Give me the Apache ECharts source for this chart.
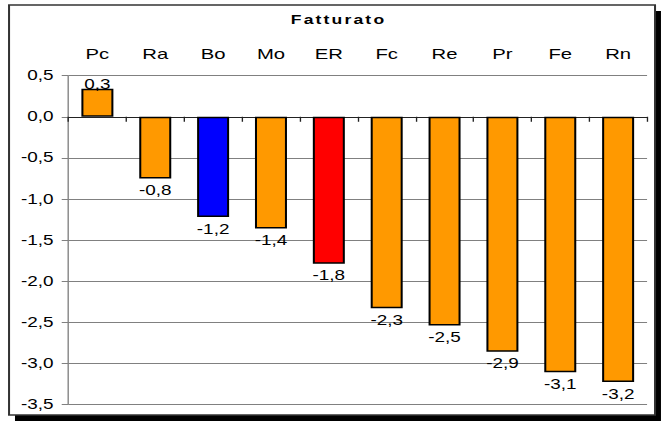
<!DOCTYPE html>
<html>
<head>
<meta charset="utf-8">
<script src="https://cdn.jsdelivr.net/npm/echarts@6/dist/echarts.min.js"></script>
<style>
  html, body { margin: 0; padding: 0; background: #ffffff; overflow: hidden; }
  #wrap { width: 663px; height: 423px; overflow: hidden; }
  /* the chart is laid out narrower and widened horizontally, giving the wide lettering */
  #chart { width: 491px; height: 423px; transform: scaleX(1.3503); transform-origin: 0 0; }
</style>
</head>
<body>
<div id="wrap"><div id="chart"></div></div>
<script>
// Turnover change by province
const titleText = 'Fatturato';
const categories = ['Pc', 'Ra', 'Bo', 'Mo', 'ER', 'Fc', 'Re', 'Pr', 'Fe', 'Rn'];
const values = [0.34, -0.75, -1.22, -1.36, -1.79, -2.33, -2.54, -2.86, -3.11, -3.23];
const barColors = ['#FF9900', '#FF9900', '#0000FF', '#FF9900', '#FF0000', '#FF9900', '#FF9900', '#FF9900', '#FF9900', '#FF9900'];
const yTicks = { min: -3.5, max: 0.5, step: 0.5 };

const FONT = '"Liberation Sans", Arial, sans-serif';

// one decimal, comma separator, halves rounded away from zero
function fmt(v) {
  const r = Math.round(Math.abs(v) * 10) / 10;
  return (v < 0 && r !== 0 ? '-' : '') + r.toFixed(1).replace('.', ',');
}

const chart = echarts.init(document.getElementById('chart'), null, { renderer: 'svg' });

const option = {
  animation: false,
  backgroundColor: 'transparent',
  graphic: [
    { type: 'rect', z: -10, silent: true,
      shape: { x: 11.1, y: 11, width: 478.4, height: 410 },
      style: { fill: '#000000' } },
    { type: 'rect', z: -9, silent: true,
      shape: { x: 6.7, y: 5, width: 478.4, height: 410 },
      style: { fill: '#ffffff', stroke: '#333333', lineWidth: 1.5 } },
    { type: 'text', z: 10, silent: true, x: 250.7, y: 19.5,
      style: { text: titleText, font: 'bold 13px ' + FONT, fill: '#000000',
               textAlign: 'center', textVerticalAlign: 'middle',
               align: 'center', verticalAlign: 'middle' } }
  ],
  grid: { left: 50.7, right: 11.8, top: 75.7, bottom: 18.7, containLabel: false },
  xAxis: [
    {
      type: 'category', data: categories, position: 'top',
      axisLine: { show: false, onZero: false },
      axisTick: { show: false },
      axisLabel: { show: true, fontSize: 15, fontFamily: FONT, color: '#000000', margin: 14 },
      splitLine: { show: false }
    },
    {
      type: 'category', data: categories, position: 'bottom',
      axisLine: { show: true, onZero: true, lineStyle: { color: '#222222', width: 1 } },
      axisTick: { show: true, length: 5, lineStyle: { color: '#222222', width: 1 } },
      axisLabel: { show: false },
      splitLine: { show: false }
    }
  ],
  yAxis: {
    type: 'value', min: yTicks.min, max: yTicks.max, interval: yTicks.step,
    axisLine: { show: true, lineStyle: { color: '#808080', width: 1 } },
    axisTick: { show: true, length: 5, lineStyle: { color: '#808080', width: 1 } },
    axisLabel: { fontSize: 14, fontFamily: FONT, color: '#000000', margin: 11,
                 formatter: v => v.toFixed(1).replace('.', ',') },
    splitLine: { show: true, lineStyle: { color: '#808080', width: 1 } }
  },
  series: [{
    type: 'bar',
    xAxisIndex: 0,
    barWidth: 23.7,
    data: values.map((v, i) => ({
      value: v,
      itemStyle: { color: barColors[i], borderColor: '#000000', borderWidth: 1.5 },
      label: v >= 0 ? { position: 'top', distance: -3 } : { position: 'bottom', distance: 5 }
    })),
    label: {
      show: true, fontSize: 14, fontFamily: FONT, color: '#000000',
      formatter: p => fmt(p.value)
    }
  }]
};

chart.setOption(option);

// wider spacing between the letters of the heading
function spaceTitle() {
  document.querySelectorAll('#chart text').forEach(t => {
    if (t.textContent === titleText) t.style.letterSpacing = '1.6px';
  });
}
chart.on('finished', spaceTitle);
spaceTitle();
setTimeout(spaceTitle, 50);
</script>
</body>
</html>
